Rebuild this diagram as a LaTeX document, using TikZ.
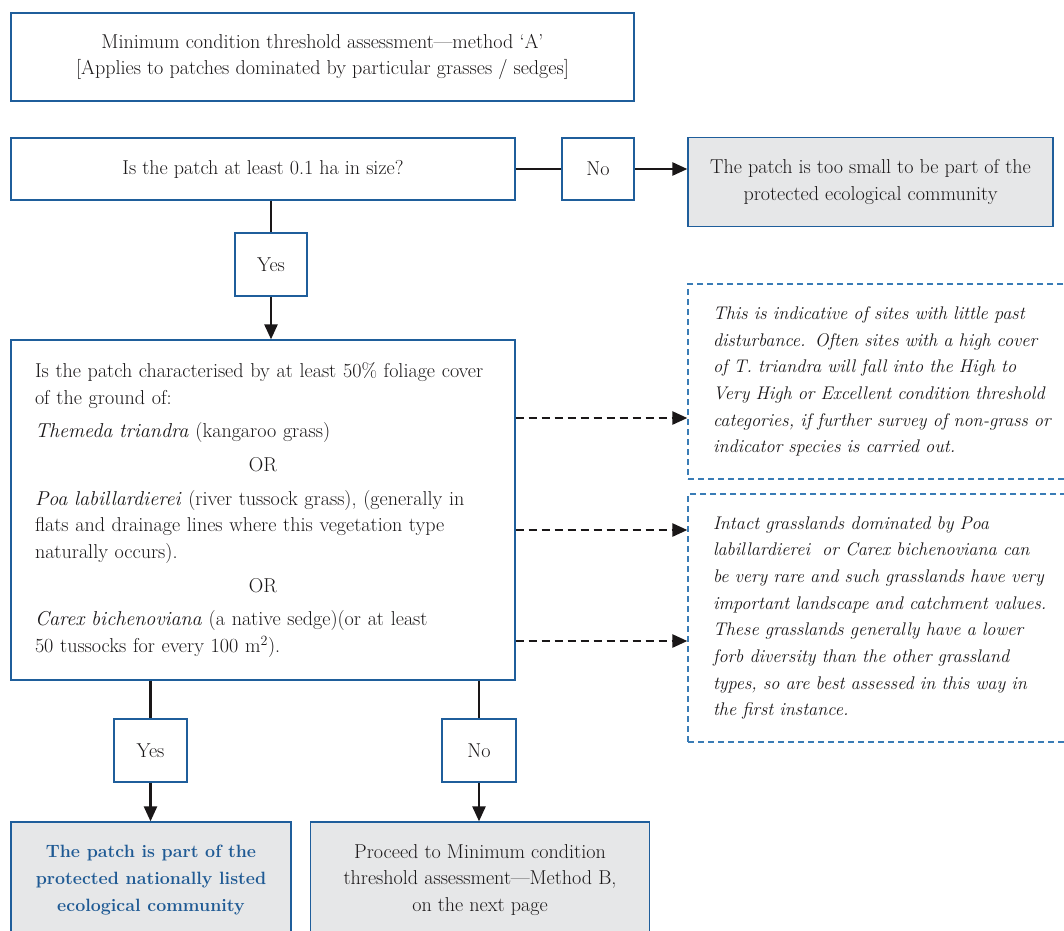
\documentclass[tikz,border=0pt]{standalone}
\usetikzlibrary{arrows.meta}
\definecolor{boxblue}{HTML}{1F5E9B}
\definecolor{dashblue}{HTML}{3A7CB6}
\definecolor{fillgray}{HTML}{E6E7E8}
\definecolor{ink}{HTML}{1A1718}
\definecolor{boldblue}{HTML}{1F5A94}
\tikzset{
  box/.style={draw=boxblue, line width=1.3pt, text=ink, inner sep=0pt,
    font=\fontsize{20.1}{26.7}\selectfont},
  cbox/.style={box, align=center},
  graybox/.style={cbox, fill=fillgray},
  notebox/.style={draw=dashblue, line width=1.3pt, dash pattern=on 6pt off 4pt,
    text=ink, inner sep=0pt, font=\fontsize{18.3}{26.7}\selectfont\itshape},
  conn/.style={draw=ink, line width=2.5pt},
  arr/.style={conn, -{Triangle[length=15pt,width=13pt]}},
  dasharr/.style={arr, dash pattern=on 8pt off 5pt},
}
\begin{document}
\begin{tikzpicture}[x=1pt,y=-1pt]
\useasboundingbox (0,0) rectangle (1064,930);
\clip (0,0) rectangle (1064,930);
\fill[white] (0,0) rectangle (1064,930);

\node[cbox, minimum width=623pt, minimum height=88pt] (title) at (322.5,57)
  {Minimum condition threshold assessment---method `A'\\{[}Applies to patches dominated by particular grasses / sedges{]}};

\node[cbox, minimum width=504pt, minimum height=62pt] (q1) at (263,169)
  {Is the patch at least 0.1 ha in size?};
\node[cbox, minimum width=72pt, minimum height=62pt] (no1) at (598,169) {No};
\node[graybox, minimum width=365pt, minimum height=89pt] (small) at (870.5,182)
  {The patch is too small to be part of the\\protected ecological community};

\node[cbox, minimum width=72pt, minimum height=63pt] (yes1) at (271,264.5) {Yes};

\node[box, minimum width=504pt, minimum height=340pt, text width=456pt] (q2) at (263,510)
  {\parindent=0pt\raggedright
   Is the patch characterised by at least 50\% foliage cover\\of the ground of:\par\vspace{7pt}
   \textit{Themeda triandra} (kangaroo grass)\par\vspace{7pt}
   {\centering OR\par}\vspace{7pt}
   \textit{Poa labillardierei} (river tussock grass), (generally in\\flats and drainage lines where this vegetation type\\naturally occurs).\par\vspace{7pt}
   {\centering OR\par}\vspace{7pt}
   \textit{Carex bichenoviana} (a native sedge)(or at least\\50 tussocks for every 100 m\textsuperscript{2}).\par};

\node[notebox, minimum width=400pt, minimum height=195pt, text width=350pt] (d1) at (888,381.5)
  {\parindent=0pt\raggedright
   This is indicative of sites with little past\\disturbance. Often sites with a high cover\\of T. triandra will fall into the High to\\Very High or Excellent condition threshold\\categories, if further survey of non-grass or\\indicator species is carried out.\par};

\node[notebox, minimum width=400pt, minimum height=248pt, text width=350pt] (d2) at (888,618)
  {\parindent=0pt\raggedright
   Intact grasslands dominated by Poa\\labillardierei\ \ or Carex bichenoviana can\\be very rare and such grasslands have very\\important landscape and catchment values.\\These grasslands generally have a lower\\forb diversity than the other grassland\\types, so are best assessed in this way in\\the first instance.\par};

\node[cbox, minimum width=73pt, minimum height=63pt] (yes2) at (150.5,750.5) {Yes};
\node[cbox, minimum width=74pt, minimum height=63pt] (no2) at (479,750.5) {No};

\node[graybox, minimum width=280pt, minimum height=116pt, font=\fontsize{17.8}{26.7}\selectfont\bfseries, text=boldblue] (bl) at (151,880)
  {The patch is part of the\\protected nationally listed\\ecological community};
\node[graybox, minimum width=339pt, minimum height=116pt] (br) at (480,880)
  {Proceed to Minimum condition\\threshold assessment---Method B,\\on the next page};

% connectors
\draw[conn] (q1.east) -- (no1.west);
\draw[arr] (no1.east) -- (no1.east -| small.west);
\draw[conn] (yes1.north |- q1.south) -- (yes1.north);
\draw[arr] (yes1.south) -- (yes1.south |- q2.north);
\draw[dasharr] (q2.east |- 0,418) -- (d1.west |- 0,418);
\draw[dasharr] (q2.east |- 0,530) -- (d2.west |- 0,530);
\draw[dasharr] (q2.east |- 0,641) -- (d2.west |- 0,641);
\draw[conn] (yes2.north |- q2.south) -- (yes2.north);
\draw[arr] (yes2.south) -- (yes2.south |- bl.north);
\draw[conn] (no2.north |- q2.south) -- (no2.north);
\draw[arr] (no2.south) -- (no2.south |- br.north);
\end{tikzpicture}
\end{document}
